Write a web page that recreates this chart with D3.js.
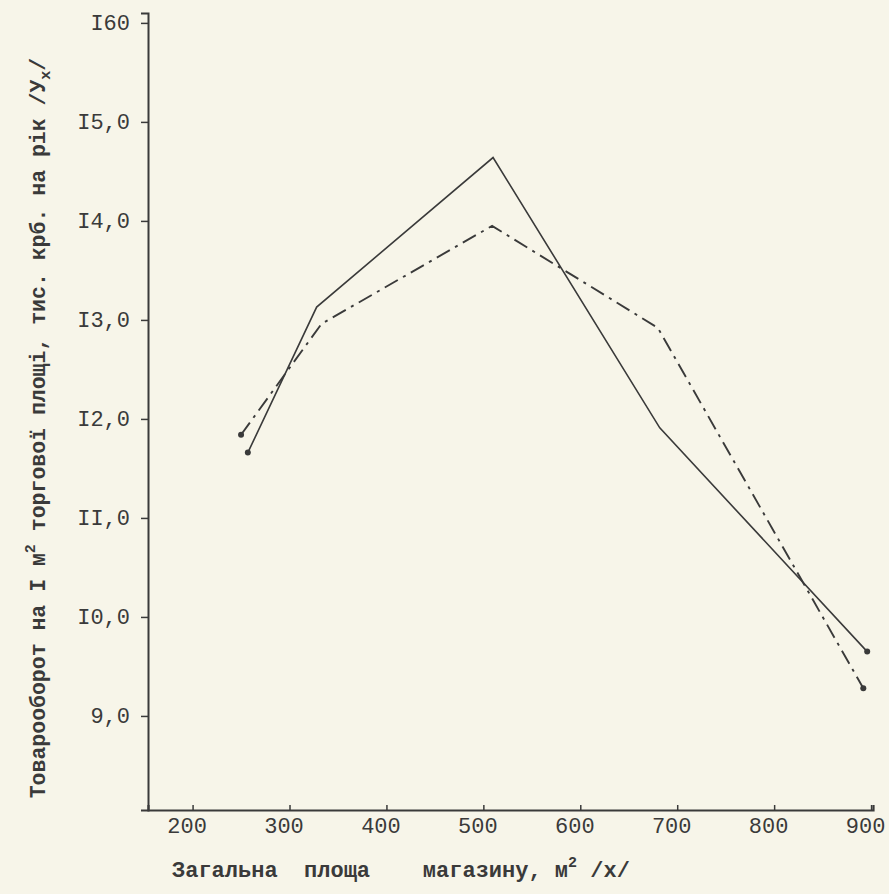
<!DOCTYPE html>
<html>
<head>
<meta charset="utf-8">
<script src="https://cdn.jsdelivr.net/npm/d3@7"></script>
<style>
  html, body { margin: 0; padding: 0; background: #f7f5e9; }
  svg { display: block; }
  text { font-family: "Liberation Mono", "DejaVu Sans Mono", monospace; fill: #3a3a3a; }
</style>
</head>
<body>
<svg id="chart" width="889" height="894"></svg>
<script>
// ---- data ----
const xTicks = [200, 300, 400, 500, 600, 700, 800, 900];
const xTickLabels = ["200", "300", "400", "500", "600", "700", "800", "900"];
const yTicks = [9, 10, 11, 12, 13, 14, 15, 16];
const yTickLabels = ["9,0", "I0,0", "II,0", "I2,0", "I3,0", "I4,0", "I5,0", "I60"];

// solid line
const solidX = [257, 328, 510, 682, 896];
const solidY = [11.66, 13.13, 14.64, 11.91, 9.65];
// dash-dot line
const dashX = [250, 333, 509, 680, 892];
const dashY = [11.84, 12.96, 13.95, 12.92, 9.28];

// ---- layout ----
const svg = d3.select("#chart");
const ink = "#3a3a3a";
const x = d3.scaleLinear().domain([154, 902]).range([148, 873]);
const y = d3.scaleLinear().domain([8.05, 16.1]).range([810, 13]);

// axes
const gx = svg.append("g").attr("transform", `translate(0,${y(8.05)})`)
  .call(d3.axisBottom(x).tickValues(xTicks).tickSize(-5).tickPadding(7)
    .tickFormat((d, i) => xTickLabels[i]));
gx.select(".domain").attr("stroke", ink).attr("stroke-width", 2.2);
gx.selectAll(".tick line").attr("stroke", ink).attr("stroke-width", 1.5);
gx.selectAll(".tick text").style("font-size", "22px").attr("fill", ink)
  .attr("dx", -6);

const gy = svg.append("g").attr("transform", `translate(${x(154)},0)`)
  .call(d3.axisLeft(y).tickValues(yTicks).tickSize(7).tickPadding(11)
    .tickFormat((d, i) => yTickLabels[i]));
gy.select(".domain").attr("stroke", ink).attr("stroke-width", 2);
gy.selectAll(".tick line").attr("stroke", ink).attr("stroke-width", 1.5);
gy.selectAll(".tick text").style("font-size", "22px").attr("fill", ink);

// lines
const line = d3.line().x(d => x(d[0])).y(d => y(d[1]));
const solidPts = solidX.map((v, i) => [v, solidY[i]]);
const dashPts = dashX.map((v, i) => [v, dashY[i]]);

svg.append("path").datum(solidPts).attr("d", line)
  .attr("fill", "none").attr("stroke", ink).attr("stroke-width", 1.6);
svg.append("path").datum(dashPts).attr("d", line)
  .attr("fill", "none").attr("stroke", ink).attr("stroke-width", 1.9)
  .attr("stroke-dasharray", "15,6,3,6");

// end-point dots
const ends = [solidPts[0], solidPts[solidPts.length - 1], dashPts[0], dashPts[dashPts.length - 1]];
svg.selectAll("circle.end").data(ends).enter().append("circle")
  .attr("class", "end").attr("cx", d => x(d[0])).attr("cy", d => y(d[1]))
  .attr("r", 3).attr("fill", ink);

// x axis title
const xt = svg.append("text").attr("x", 172).attr("y", 877)
  .attr("xml:space", "preserve").style("white-space", "pre")
  .style("font-size", "22px").style("font-weight", "bold");
xt.append("tspan").text("Загальна  площа    магазину, м");
xt.append("tspan").attr("dy", -10).style("font-size", "15px").text("2");
xt.append("tspan").attr("dy", 10).text(" /х/");

// y axis title
const yt = svg.append("text")
  .attr("transform", "translate(45,428) rotate(-90)")
  .attr("text-anchor", "middle")
  .style("font-size", "21.5px").style("font-weight", "bold");
yt.append("tspan").text("Товарооборот на I м");
yt.append("tspan").attr("dy", -10).style("font-size", "15px").text("2");
yt.append("tspan").attr("dy", 10).text(" торгової площі, тис. крб. на рік /У");
yt.append("tspan").attr("dy", 5).style("font-size", "15px").text("х");
yt.append("tspan").attr("dy", -5).text("/");
</script>
</body>
</html>
